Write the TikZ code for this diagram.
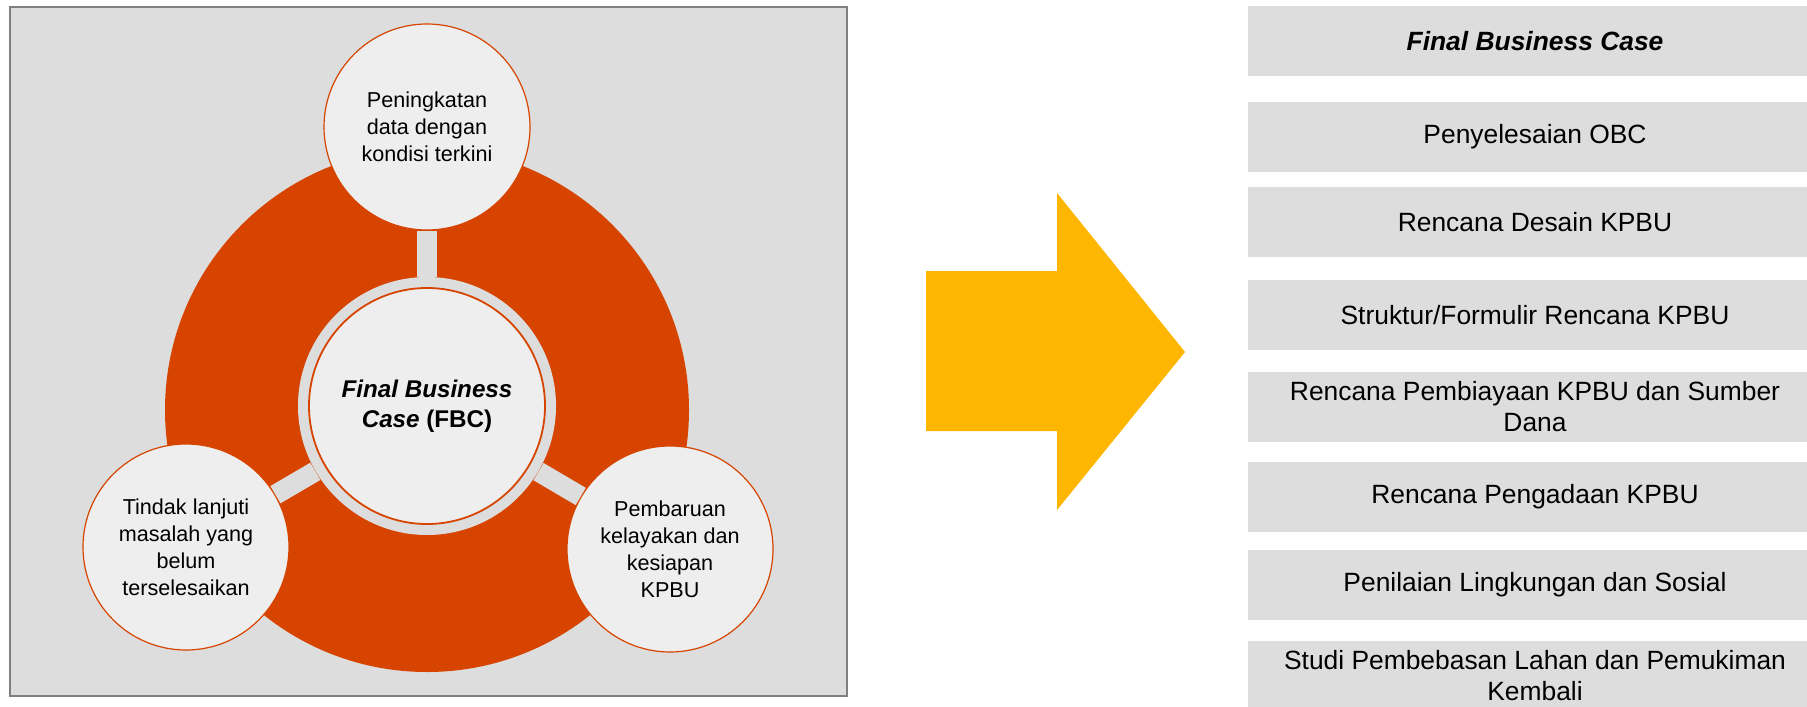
\documentclass[tikz,border=0pt]{standalone}
\usepackage{fontspec}
\setmainfont{Liberation Sans}
\usetikzlibrary{positioning}

\definecolor{fbcorange}{RGB}{214,68,0}
\definecolor{panelgray}{RGB}{221,221,221}
\definecolor{bubblegray}{RGB}{238,238,238}
\definecolor{arrowyellow}{RGB}{255,182,0}
\definecolor{framegray}{RGB}{128,128,128}

\tikzset{
  bubble/.style={circle, fill=bubblegray, draw=fbcorange, line width=0.6pt,
    minimum size=103pt, inner sep=0pt, align=center,
    font=\fontsize{10.8}{13.5}\selectfont},
  stepbox/.style={rectangle, fill=panelgray, minimum width=287pt,
    minimum height=35pt, inner sep=0pt, align=center,
    font=\fontsize{13.2}{15.5}\selectfont}
}

\begin{document}
\begin{tikzpicture}[x=0.5pt,y=-0.5pt]
  \pgfmathsetmacro{\bx}{1535}
  \useasboundingbox (0,0) rectangle (1807,706);
  \clip (0,0) rectangle (1807,706);

  % left panel
  \draw[framegray, line width=1pt, fill=panelgray] (10,7) rectangle (847,696);
  \fill[fbcorange] (427,410) circle[radius=262];

  \node[circle, fill=panelgray, minimum size=129pt, inner sep=0pt] (ring) at (427,406) {};
  \node[circle, fill=bubblegray, draw=fbcorange, line width=0.9pt, minimum size=118pt,
    inner sep=0pt, align=center, font=\fontsize{12.1}{15}\selectfont\bfseries]
    (fbc) at (427,406) {\textit{Final Business}\\\textit{Case} (FBC)};

  \node[bubble] (bubtop) at (427,127) {Peningkatan\\data dengan\\kondisi terkini};
  \node[bubble] (bubleft) at (186,547) {Tindak lanjuti\\masalah yang\\belum\\terselesaikan};
  \node[bubble] (bubright) at (670,549) {Pembaruan\\kelayakan dan\\kesiapan\\KPBU};

  \foreach \n in {bubtop,bubleft,bubright}{
    \draw[panelgray, line width=10pt] (ring) -- (\n);
  }

  % big arrow
  \fill[arrowyellow] (926,271) -- (1057,271) -- (1057,193) -- (1185,352)
    -- (1057,510) -- (1057,431) -- (926,431) -- cycle;

  % right list
  \node[stepbox, font=\fontsize{13.2}{15.5}\selectfont\bfseries\itshape] (box0) at (\bx,41.5) {Final Business Case};
  \foreach \y/\txt [count=\i] in {137/{Penyelesaian OBC}, 222/{Rencana Desain KPBU},
      315/{Struktur/Formulir Rencana KPBU}, 407/{Rencana Pembiayaan KPBU dan Sumber\\Dana},
      496.5/{Rencana Pengadaan KPBU}, 584.5/{Penilaian Lingkungan dan Sosial},
      676/{Studi Pembebasan Lahan dan Pemukiman\\Kembali}}{
    \node[stepbox] (box\i) at (\bx,\y) {\txt};
  }
\end{tikzpicture}
\end{document}
